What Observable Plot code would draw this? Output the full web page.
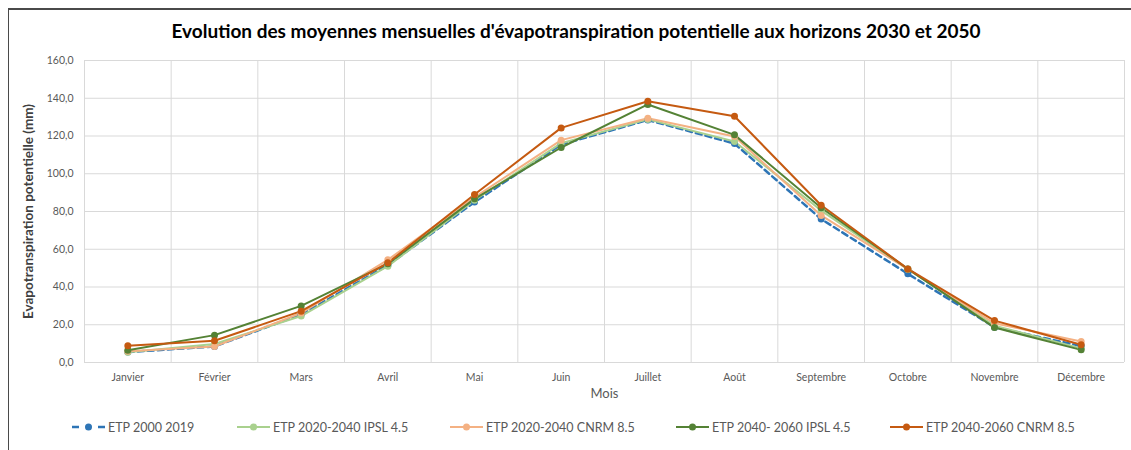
<!DOCTYPE html>
<html>
<head>
<meta charset="utf-8">
<script src="https://cdn.jsdelivr.net/npm/d3@7"></script>
<script src="https://cdn.jsdelivr.net/npm/@observablehq/plot@0.6"></script>
<style>
  html, body { margin: 0; padding: 0; background: #fff; overflow: hidden; }
  #wrap { position: relative; width: 1131px; height: 450px; font-family: Lato, "Open Sans", sans-serif; }
  #frame { position: absolute; left: 8px; top: 8px; width: 1200px; height: 600px; border-top: 2px solid #4a4a4a; border-left: 1.5px solid #4a4a4a; }
  #title { position: absolute; left: 0; width: 1152px; top: 19px; text-align: center; font-weight: bold; font-size: 19px; color: #000; white-space: nowrap; }
  #chart { position: absolute; left: 0; top: 50px; }
  .leg { position: absolute; top: 419px; height: 16px; display: flex; align-items: center; font-size: 12.5px; color: #595959; white-space: nowrap; }
  .leg svg { margin-right: 3px; }
</style>
</head>
<body>
<div id="wrap">
  <div id="frame"></div>
  <div id="title">Evolution des moyennes mensuelles d'évapotranspiration potentielle aux horizons 2030 et 2050</div>
  <div id="chart"></div>
  <div id="legend"></div>
</div>
<script>
const months = ["Janvier", "Février", "Mars", "Avril", "Mai", "Juin", "Juillet", "Août", "Septembre", "Octobre", "Novembre", "Décembre"];
const seriesNames = ["ETP 2000 2019", "ETP 2020-2040 IPSL 4.5", "ETP 2020-2040 CNRM 8.5", "ETP 2040- 2060 IPSL 4.5", "ETP 2040-2060 CNRM 8.5"];
const seriesColors = ["#2E75B6", "#A9D18E", "#F4B183", "#548235", "#C55A11"];
const etp2000_2019 = [5.5, 8.5, 25.5, 51.5, 85.0, 115.5, 128.5, 116.0, 76.0, 47.0, 18.7, 8.7];
const ipsl45_2030 = [5.4, 9.8, 24.6, 51.0, 86.0, 116.2, 128.8, 117.1, 80.5, 49.4, 19.5, 7.5];
const cnrm85_2030 = [6.0, 8.5, 26.2, 54.4, 87.5, 117.8, 129.4, 119.7, 77.9, 49.4, 20.8, 11.1];
const ipsl45_2050 = [6.5, 14.5, 30.0, 52.3, 86.7, 113.9, 136.7, 120.6, 82.0, 49.6, 18.5, 6.7];
const cnrm85_2050 = [8.9, 11.5, 27.2, 52.8, 89.0, 124.3, 138.4, 130.5, 83.3, 49.6, 22.2, 9.4];
const yTicks = [0, 20, 40, 60, 80, 100, 120, 140, 160];

const allSeries = [etp2000_2019, ipsl45_2030, cnrm85_2030, ipsl45_2050, cnrm85_2050];
const rows = [];
allSeries.forEach((vals, s) => vals.forEach((v, i) => rows.push({series: seriesNames[s], m: i, value: v})));
const idx = months.map((_, i) => i);
const edges = months.map((_, i) => i - 0.5).concat([months.length - 0.5]);
const fmt = d => d.toFixed(1).replace(".", ",");

const marks = [
  Plot.ruleY(yTicks, {stroke: "#d9d9d9", strokeWidth: 1}),
  Plot.ruleX(edges, {stroke: "#d9d9d9", strokeWidth: 1}),
  Plot.axisY({ticks: yTicks, tickFormat: fmt, tickSize: 0, tickPadding: 11, fontSize: 10.5, color: "#595959", label: null}),
  Plot.axisX({ticks: idx, tickFormat: i => months[i], tickSize: 0, tickPadding: 11, fontSize: 10.5, color: "#595959", label: null}),
  Plot.text(["Mois"], {frameAnchor: "bottom", dy: 35, fontSize: 13, fill: "#595959"}),
  Plot.text(["Evapotranspiration potentielle (mm)"], {frameAnchor: "left", textAnchor: "middle", dx: -56, dy: 0, rotate: -90, fontSize: 13.5, fontWeight: "bold", fill: "#404040"})
];
seriesNames.forEach((name, s) => {
  const data = rows.filter(r => r.series === name);
  marks.push(Plot.line(data, {x: "m", y: "value", stroke: seriesColors[s], strokeWidth: s === 0 ? 2.5 : 2, strokeDasharray: s === 0 ? "6,4" : null}));
});
seriesNames.forEach((name, s) => {
  const data = rows.filter(r => r.series === name);
  marks.push(Plot.dot(data, {x: "m", y: "value", r: 3.5, fill: seriesColors[s], stroke: "none"}));
});

const chart = Plot.plot({
  width: 1131,
  height: 360,
  marginLeft: 84,
  marginRight: 7,
  marginTop: 10,
  marginBottom: 48,
  style: {fontFamily: "Lato, 'Open Sans', sans-serif", background: "transparent"},
  x: {type: "linear", domain: [-0.5, 11.5]},
  y: {type: "linear", domain: [0, 160]},
  marks
});
document.getElementById("chart").appendChild(chart);

// legend
const legX = [72, 237, 450, 676, 890];
const legend = document.getElementById("legend");
seriesNames.forEach((name, s) => {
  const div = document.createElement("div");
  div.className = "leg";
  div.style.left = legX[s] + "px";
  const w = 33;
  const c = seriesColors[s];
  const line = s === 0
    ? `<line x1="0" x2="7" y1="6" y2="6" stroke="${c}" stroke-width="2.5"/><line x1="26" x2="33" y1="6" y2="6" stroke="${c}" stroke-width="2.5"/>`
    : `<line x1="0" x2="${w}" y1="6" y2="6" stroke="${c}" stroke-width="2"/>`;
  div.innerHTML = `<svg width="${w}" height="12">${line}<circle cx="${w/2}" cy="6" r="3.5" fill="${c}"/></svg><span>${name}</span>`;
  legend.appendChild(div);
});
</script>
</body>
</html>
